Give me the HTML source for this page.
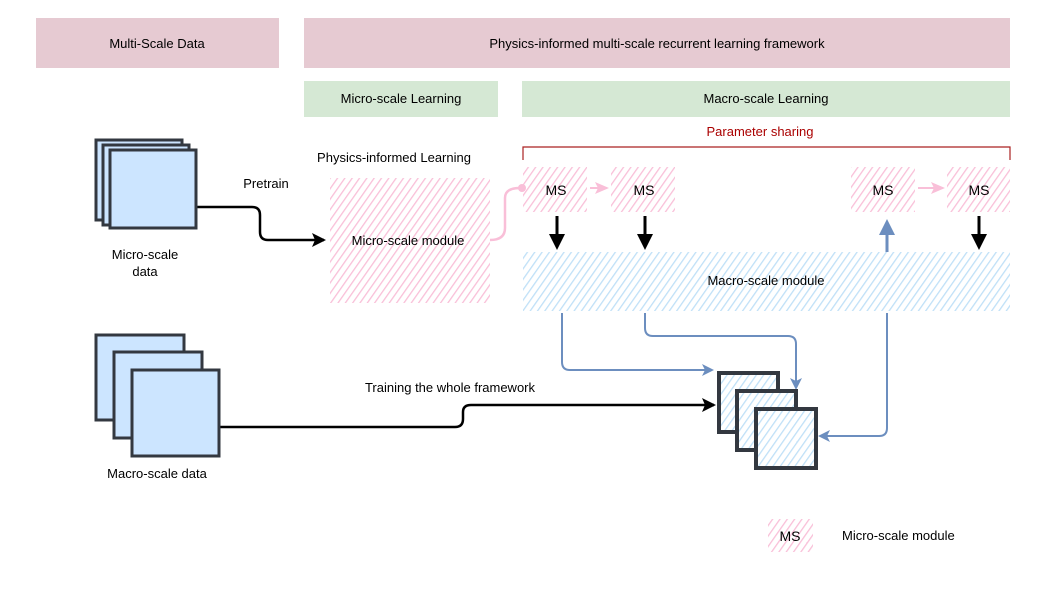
<!DOCTYPE html>
<html><head><style>body{margin:0;background:#fff}svg{display:block}text{font-family:"Liberation Sans",sans-serif}</style></head><body>
<svg width="1046" height="589" viewBox="0 0 1046 589" xmlns="http://www.w3.org/2000/svg">
<defs>
<pattern id="pk" width="6" height="6" patternUnits="userSpaceOnUse" patternTransform="rotate(35)"><rect width="6" height="6" fill="#fff"/><line x1="0" y1="0" x2="0" y2="6" stroke="#f9bfd8" stroke-width="2.6"/></pattern>
<pattern id="bl" width="6" height="6" patternUnits="userSpaceOnUse" patternTransform="rotate(35)"><rect width="6" height="6" fill="#fff"/><line x1="0" y1="0" x2="0" y2="6" stroke="#bfe0f7" stroke-width="2.6"/></pattern>
<marker id="ab" markerWidth="14" markerHeight="14" refX="12" refY="7" orient="auto" markerUnits="userSpaceOnUse"><path d="M0,0 L14,7 L0,14 L3,7z" fill="#000"/></marker>
<marker id="abl" markerWidth="12" markerHeight="12" refX="10" refY="6" orient="auto" markerUnits="userSpaceOnUse"><path d="M0,0 L12,6 L0,12 L3,6z" fill="#6c8ebf"/></marker>
<marker id="ap" markerWidth="14" markerHeight="14" refX="12" refY="7" orient="auto" markerUnits="userSpaceOnUse"><path d="M0,1 L14,7 L0,13 L3,7z" fill="#f9bfd8"/></marker>
</defs>
<rect x="36" y="18" width="243" height="50" fill="#e6cad2"/>
<text x="157" y="48" font-size="13" text-anchor="middle">Multi-Scale Data</text>
<rect x="304" y="18" width="706" height="50" fill="#e6cad2"/>
<text x="657" y="48" font-size="13" text-anchor="middle">Physics-informed multi-scale recurrent learning framework</text>
<rect x="304" y="81" width="194" height="36" fill="#d5e8d4"/>
<text x="401" y="103" font-size="13" text-anchor="middle">Micro-scale Learning</text>
<rect x="522" y="81" width="488" height="36" fill="#d5e8d4"/>
<text x="766" y="103" font-size="13" text-anchor="middle">Macro-scale Learning</text>
<text x="760" y="136" font-size="13" text-anchor="middle" fill="#a00">Parameter sharing</text>
<path d="M523,160 V147 H1010 V160" fill="none" stroke="#a22" stroke-width="1.2"/>
<text x="394" y="162" font-size="13" text-anchor="middle">Physics-informed Learning</text>
<rect x="330" y="178" width="160" height="125" fill="url(#pk)"/>
<text x="408" y="245" font-size="13" text-anchor="middle">Micro-scale module</text>
<rect x="523" y="252" width="487" height="59" fill="url(#bl)"/>
<text x="766" y="285" font-size="13" text-anchor="middle">Macro-scale module</text>
<g font-size="14" text-anchor="middle">
<rect x="523" y="167" width="64" height="45" fill="url(#pk)"/><text x="556" y="195">MS</text>
<rect x="611" y="167" width="64" height="45" fill="url(#pk)"/><text x="644" y="195">MS</text>
<rect x="851" y="167" width="64" height="45" fill="url(#pk)"/><text x="883" y="195">MS</text>
<rect x="947" y="167" width="63" height="45" fill="url(#pk)"/><text x="979" y="195">MS</text>
<rect x="768" y="519" width="45" height="33" fill="url(#pk)"/><text x="790" y="541">MS</text>
</g>
<text x="842" y="540" font-size="13">Micro-scale module</text>
<path d="M590,188 H607" stroke="#f9bfd8" stroke-width="2" marker-end="url(#ap)"/>
<path d="M918,188 H943" stroke="#f9bfd8" stroke-width="2" marker-end="url(#ap)"/>
<path d="M490,240 Q505,240 505,228 V198 Q505,188 520,188" fill="none" stroke="#f9bfd8" stroke-width="2.5"/>
<circle cx="522" cy="188" r="4" fill="#f9bfd8"/>
<g stroke="#000" stroke-width="3" fill="none">
<path d="M557,216 V240"/><path d="M645,216 V240"/><path d="M979,216 V240"/>
</g>
<g fill="#000"><path d="M549,234 L557,250 L565,234z"/><path d="M637,234 L645,250 L653,234z"/><path d="M971,234 L979,250 L987,234z"/></g>
<path d="M887,252 V228" stroke="#6c8ebf" stroke-width="3"/><path d="M879,235 L887,219 L895,235z" fill="#6c8ebf"/>
<g stroke="#6c8ebf" stroke-width="2" fill="none">
<path d="M562,313 V362 Q562,370 570,370 H712" marker-end="url(#abl)"/>
<path d="M645,313 V328 Q645,336 653,336 H788 Q796,336 796,344 V388" marker-end="url(#abl)"/>
<path d="M887,313 V428 Q887,436 879,436 H820" marker-end="url(#abl)"/>
</g>
<g stroke="#000" stroke-width="2.5" fill="none">
<path d="M197,207 H252 Q260,207 260,215 V232 Q260,240 268,240 H324" marker-end="url(#ab)"/>
<path d="M219,427 H455 Q463,427 463,419 V412 Q463,405 471,405 H714" marker-end="url(#ab)"/>
</g>
<text x="266" y="188" font-size="13" text-anchor="middle">Pretrain</text>
<text x="450" y="392" font-size="13" text-anchor="middle">Training the whole framework</text>
<g fill="#cce5ff" stroke="#333840" stroke-width="3">
<rect x="96" y="140" width="86" height="80"/><rect x="103" y="145" width="86" height="80"/><rect x="110" y="150" width="86" height="78"/>
<rect x="96" y="335" width="88" height="85"/><rect x="114" y="352" width="88" height="86"/><rect x="132" y="370" width="87" height="86"/>
</g>
<text x="145" y="259" font-size="13" text-anchor="middle">Micro-scale</text>
<text x="145" y="276" font-size="13" text-anchor="middle">data</text>
<text x="157" y="478" font-size="13" text-anchor="middle">Macro-scale data</text>
<g fill="url(#bl)" stroke="#333840" stroke-width="4">
<rect x="719" y="373" width="59" height="59"/><rect x="737" y="391" width="59" height="59"/><rect x="756" y="409" width="60" height="59"/>
</g>
</svg>
</body></html>
